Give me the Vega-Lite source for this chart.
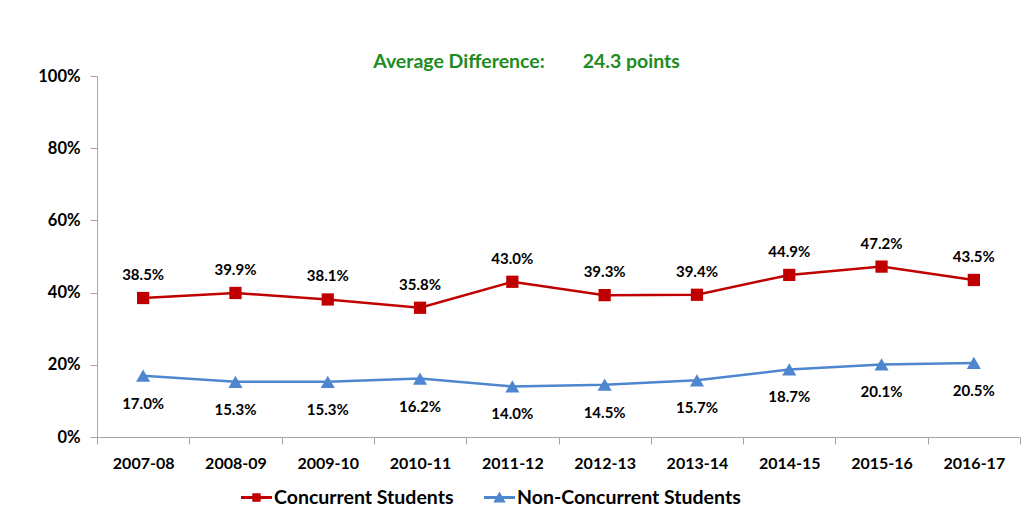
{
  "$schema": "https://vega.github.io/schema/vega-lite/v6.json",
  "autosize": "none",
  "width": 923,
  "height": 361,
  "padding": {"left": 97, "top": 76, "right": 11, "bottom": 94},
  "background": "white",
  "config": {"view": {"stroke": null}, "font": "Lato"},
  "title": {
    "text": "Average Difference:\u00a0\u00a0\u00a0\u00a0\u00a0\u00a0\u00a0 24.3 points",
    "color": "#1E8C1E",
    "fontSize": 19.5,
    "fontWeight": "bold",
    "font": "Lato",
    "anchor": "middle",
    "dx": -32,
    "offset": -4
  },
  "data": {
    "values": [
      {"year": "2007-08", "series": "Concurrent Students", "value": 38.5},
      {"year": "2008-09", "series": "Concurrent Students", "value": 39.9},
      {"year": "2009-10", "series": "Concurrent Students", "value": 38.1},
      {"year": "2010-11", "series": "Concurrent Students", "value": 35.8},
      {"year": "2011-12", "series": "Concurrent Students", "value": 43.0},
      {"year": "2012-13", "series": "Concurrent Students", "value": 39.3},
      {"year": "2013-14", "series": "Concurrent Students", "value": 39.4},
      {"year": "2014-15", "series": "Concurrent Students", "value": 44.9},
      {"year": "2015-16", "series": "Concurrent Students", "value": 47.2},
      {"year": "2016-17", "series": "Concurrent Students", "value": 43.5},
      {"year": "2007-08", "series": "Non-Concurrent Students", "value": 17.0},
      {"year": "2008-09", "series": "Non-Concurrent Students", "value": 15.3},
      {"year": "2009-10", "series": "Non-Concurrent Students", "value": 15.3},
      {"year": "2010-11", "series": "Non-Concurrent Students", "value": 16.2},
      {"year": "2011-12", "series": "Non-Concurrent Students", "value": 14.0},
      {"year": "2012-13", "series": "Non-Concurrent Students", "value": 14.5},
      {"year": "2013-14", "series": "Non-Concurrent Students", "value": 15.7},
      {"year": "2014-15", "series": "Non-Concurrent Students", "value": 18.7},
      {"year": "2015-16", "series": "Non-Concurrent Students", "value": 20.1},
      {"year": "2016-17", "series": "Non-Concurrent Students", "value": 20.5}
    ]
  },
  "encoding": {
    "x": {
      "field": "year",
      "type": "ordinal",
      "title": null,
      "scale": {"paddingInner": 0, "paddingOuter": 0},
      "axis": {
        "labelAngle": 0,
        "labelFontSize": 16,
        "labelFontWeight": "bold",
        "labelColor": "#000000",
        "labelFont": "Lato",
        "labelPadding": 11,
        "domainColor": "#A6A6A6",
        "tickColor": "#A6A6A6",
        "tickSize": 7,
        "tickBand": "extent",
        "grid": false
      }
    },
    "y": {
      "field": "value",
      "type": "quantitative",
      "title": null,
      "scale": {"domain": [0, 100]},
      "axis": {
        "values": [0, 20, 40, 60, 80, 100],
        "labelExpr": "datum.value + '%'",
        "labelFontSize": 16.5,
        "labelFontWeight": "bold",
        "labelColor": "#000000",
        "labelFont": "Lato",
        "labelPadding": 10,
        "domainColor": "#A6A6A6",
        "tickColor": "#A6A6A6",
        "tickSize": 7,
        "grid": false
      }
    }
  },
  "layer": [
    {
      "transform": [{"filter": "datum.series === 'Concurrent Students'"}],
      "mark": {"type": "line", "strokeWidth": 2.5, "color": "#C00000"},
      "encoding": {}
    },
    {
      "transform": [{"filter": "datum.series === 'Non-Concurrent Students'"}],
      "mark": {"type": "line", "strokeWidth": 2.5, "color": "#4F86D0"},
      "encoding": {}
    },
    {
      "transform": [{"filter": "datum.series === 'Concurrent Students'"}],
      "mark": {"type": "point", "shape": "square", "filled": true, "size": 150, "opacity": 1, "color": "#C00000"}
    },
    {
      "transform": [{"filter": "datum.series === 'Non-Concurrent Students'"}],
      "mark": {"type": "point", "shape": "triangle-up", "filled": true, "size": 200, "opacity": 1, "color": "#4F86D0"}
    },
    {
      "transform": [{"filter": "datum.series === 'Concurrent Students'"}],
      "mark": {"type": "text", "dy": -23, "fontSize": 15, "fontWeight": "bold", "font": "Lato", "color": "#000000", "text": {"expr": "format(datum.value, '.1f') + '%'"}}
    },
    {
      "transform": [{"filter": "datum.series === 'Non-Concurrent Students'"}],
      "mark": {"type": "text", "dy": 28, "fontSize": 15, "fontWeight": "bold", "font": "Lato", "color": "#000000", "text": {"expr": "format(datum.value, '.1f') + '%'"}}
    },
    {
      "transform": [{"filter": "datum.value < 0"}],
      "mark": {"type": "point", "filled": true, "opacity": 1},
      "encoding": {
        "color": {
          "field": "series",
          "type": "nominal",
          "scale": {"domain": ["Concurrent Students", "Non-Concurrent Students"], "range": ["#C00000", "#4F86D0"]},
          "legend": {
            "title": null,
            "orient": "none",
            "legendX": 144,
            "legendY": 406,
            "direction": "horizontal",
            "symbolSize": 961,
            "symbolStrokeWidth": 0,
            "symbolOpacity": 1,
            "labelFontSize": 19.5,
            "labelFontWeight": "bold",
            "labelFont": "Lato",
            "labelColor": "#000000",
            "labelOffset": 2,
            "columnPadding": 30,
            "labelLimit": 400
          }
        },
        "shape": {
          "field": "series",
          "type": "nominal",
          "scale": {"domain": ["Concurrent Students", "Non-Concurrent Students"], "range": ["M-1,-0.1H1V0.1H-1Z M-0.27,-0.27H0.27V0.27H-0.27Z", "M-1,-0.1H1V0.1H-1Z M0,-0.38L0.4,0.32H-0.4Z"]}
        }
      }
    }
  ]
}
